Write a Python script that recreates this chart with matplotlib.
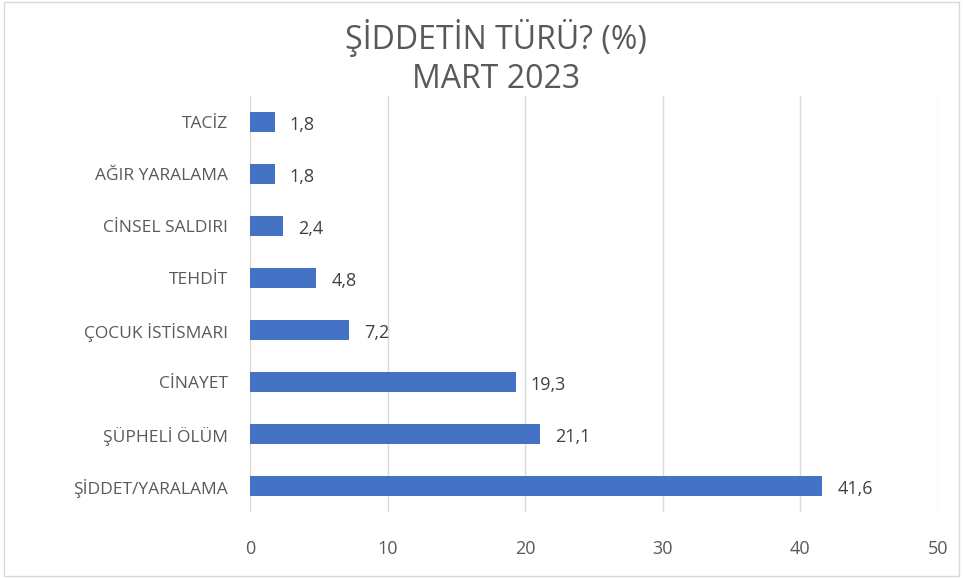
import matplotlib
matplotlib.use("Agg")
import matplotlib.pyplot as plt
from matplotlib.patches import Rectangle

categories = ["ŞİDDET/YARALAMA", "ŞÜPHELİ ÖLÜM", "CİNAYET", "ÇOCUK İSTİSMARI",
              "TEHDİT", "CİNSEL SALDIRI", "AĞIR YARALAMA", "TACİZ"]
values = [41.6, 21.1, 19.3, 7.2, 4.8, 2.4, 1.8, 1.8]
xticks = [0, 10, 20, 30, 40, 50]

plt.rcParams['font.family'] = ['Open Sans', 'DejaVu Sans']
txt = '#595959'

fig = plt.figure(figsize=(9.63, 5.78), dpi=100)
ax = fig.add_axes([0.2596, 0.114, 0.7144, 0.72])
y = list(range(len(categories)))
ax.barh(y, values, height=0.37, color='#4472C4', zorder=3)
for yi, v in zip(y, values):
    ax.text(v + 1.1, yi - 0.05, f"{v:.1f}".replace('.', ','), va='center', ha='left',
            fontsize=13, color='#404040')
ax.set_xlim(0, 50)
ax.set_ylim(-0.5, len(categories) - 0.5)
ax.set_xticks(xticks)
ax.set_xticklabels([str(t) for t in xticks])
ax.set_yticks(y)
ax.set_yticklabels(categories)
ax.tick_params(axis='both', length=0, labelsize=12.5, colors=txt)
ax.tick_params(axis='y', pad=16)
ax.tick_params(axis='x', pad=20, labelsize=13)
ax.grid(axis='x', color='#D9D9D9', linewidth=1, zorder=0)
for s in ax.spines.values():
    s.set_visible(False)

fig.text(0.515, 0.935, "ŞİDDETİN TÜRÜ? (%)", ha='center', va='center', fontsize=23, color=txt)
fig.text(0.515, 0.863, "MART 2023", ha='center', va='center', fontsize=23, color=txt)

fig.patches.append(Rectangle((0.004, 0.004), 0.992, 0.992, transform=fig.transFigure,
                             fill=False, edgecolor='#D9D9D9', linewidth=1))
fig.savefig("out.png", dpi=100)
